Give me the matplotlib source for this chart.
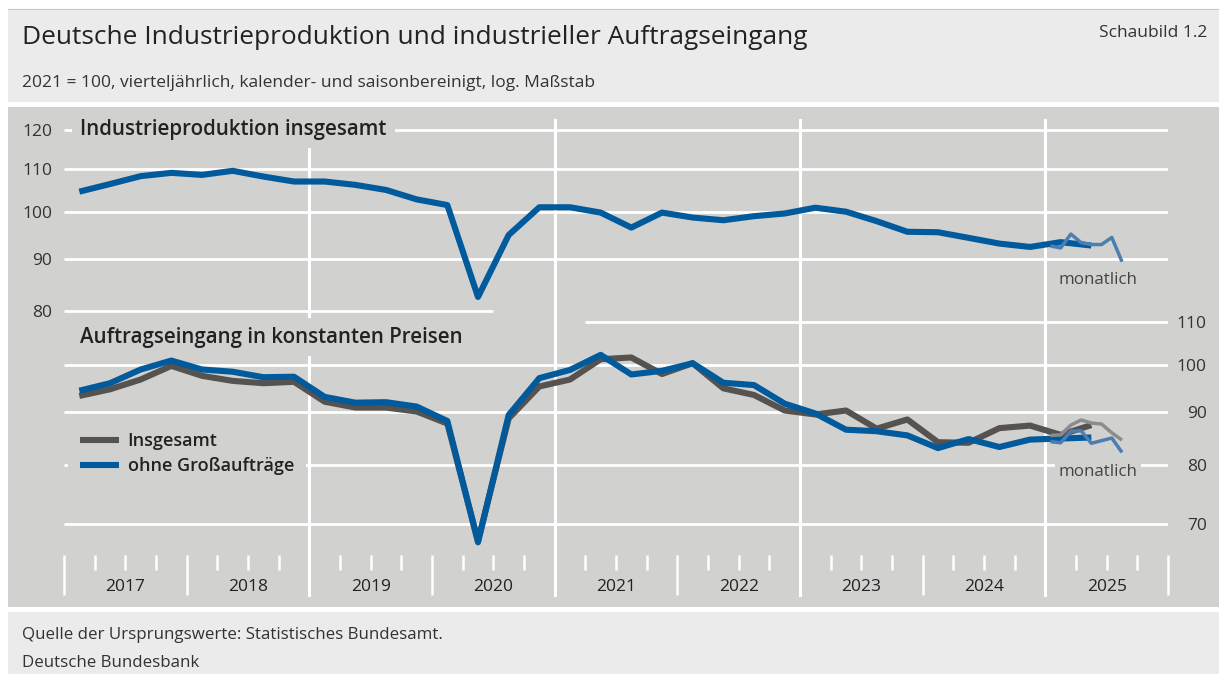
import numpy as np
import pandas as pd
import matplotlib
matplotlib.use('Agg')
import matplotlib.pyplot as plt
import matplotlib.transforms as mtransforms
from matplotlib.patches import Rectangle
from matplotlib.ticker import NullLocator

plt.rcParams['font.family'] = ['Open Sans', 'DejaVu Sans']

# 2021 = 100, log scale; quarterly 2017Q1-2025Q2, monthly Jan-Aug 2025
quarters = pd.period_range('2017Q1', '2025Q2', freq='Q')
months = pd.period_range('2025-01', '2025-08', freq='M')

prod_q = [104.6, 106.4, 108.3, 109.1,
          108.6, 109.6, 108.2, 107.0,
          107.0, 106.2, 105.0, 102.8,
          101.5, 82.6, 94.9, 101.0,
          101.0, 99.8, 96.5, 99.8,
          98.7, 98.1, 99.0, 99.6,
          100.9, 100.0, 97.9, 95.6,
          95.5, 94.3, 93.1, 92.4,
          93.4, 92.7]
prod_m = [92.6, 92.2, 95.1, 93.3, 92.9, 92.9, 94.4, 89.4]

orders_total_q = [93.3, 94.7, 96.8, 99.8,
                  97.6, 96.5, 96.0, 96.3,
                  92.1, 90.9, 90.9, 90.1,
                  87.7, 67.4, 88.7, 95.3,
                  96.8, 101.3, 101.7, 98.0,
                  100.4, 94.9, 93.5, 90.3,
                  89.5, 90.3, 86.7, 88.5,
                  84.1, 84.0, 86.8, 87.3,
                  85.5, 87.4]
orders_ex_q = [94.4, 96.0, 99.0, 101.0,
               99.0, 98.5, 97.3, 97.4,
               93.1, 91.9, 92.0, 91.1,
               88.2, 67.2, 89.4, 97.1,
               98.9, 102.3, 97.9, 98.7,
               100.4, 96.1, 95.6, 91.7,
               89.7, 86.5, 86.2, 85.4,
               83.0, 84.7, 83.2, 84.6,
               84.8, 85.0]
orders_total_m = [85.4, 85.5, 87.4, 88.4, 87.8, 87.6, 85.9, 84.5]
orders_ex_m = [84.2, 84.0, 86.2, 86.3, 83.9, 84.4, 84.9, 82.2]

years = list(range(2017, 2026))
prod_ticks = [80, 90, 100, 110, 120]
orders_ticks = [70, 80, 90, 100, 110]

# colours
blue = '#005a9c'
blue_light = '#4d7eb1'
grey_dark = '#55524f'
grey_light = '#8c8c8c'
plot_bg = '#d1d1d0'
band_bg = '#ebebeb'
txt = '#222222'

# figure in pixels
W, H = 1219, 674
fig = plt.figure(figsize=(W / 100, H / 100), dpi=100)
fig.patch.set_facecolor('white')


def fx(px):
    return px / W


def fy(py):
    return 1 - py / H


# background bands
fig.add_artist(Rectangle((fx(8), fy(102)), fx(W - 8), (102 - 9) / H, transform=fig.transFigure,
                         fc=band_bg, ec='none', zorder=-5))
fig.add_artist(Rectangle((fx(8), fy(607)), fx(W - 8), (607 - 107) / H, transform=fig.transFigure,
                         fc=plot_bg, ec='none', zorder=-5))
fig.add_artist(Rectangle((fx(8), fy(H)), fx(W - 8), (H - 612) / H, transform=fig.transFigure,
                         fc=band_bg, ec='none', zorder=-5))
fig.add_artist(plt.Line2D([fx(8), 1], [fy(9), fy(9)], transform=fig.transFigure,
                          color='#c8c8c8', lw=0.8))

# axes area: x 64..1168 px, y 120..555 px; both scales 446 px per ln unit
AX_L, AX_R, AX_T, AX_B = 64, 1168, 120, 555
PX_LN = 446.0
prod_100_px = 211.7
orders_100_px = 365.0

ax = fig.add_axes([fx(AX_L), fy(AX_B), (AX_R - AX_L) / W, (AX_B - AX_T) / H])
ax.set_facecolor('none')
ax.set_yscale('log')
ax.set_xlim(2017, 2026)
ax.set_ylim(100 * np.exp((prod_100_px - AX_B) / PX_LN), 100 * np.exp((prod_100_px - AX_T) / PX_LN))

ax2 = ax.twinx()
ax2.set_yscale('log')
ax2.set_ylim(100 * np.exp((orders_100_px - AX_B) / PX_LN), 100 * np.exp((orders_100_px - AX_T) / PX_LN))

for a in (ax, ax2):
    for s in a.spines.values():
        s.set_visible(False)
    a.yaxis.set_minor_locator(NullLocator())

# gridlines
grid_kw = dict(color='white', lw=2.0, zorder=1)
ax.hlines([110, 100, 90, 120], 2017, 2026, **grid_kw)
ax.hlines(80, 2017, 2020.5, **grid_kw)
ax2.hlines([100, 90, 80, 70], 2017, 2026, **grid_kw)
ax2.hlines(110, 2021.25, 2026, **grid_kw)
for yr in [2019, 2021, 2023, 2025]:
    ax.axvline(yr, ymin=-40 / (AX_B - AX_T), ymax=1, color='white', lw=2.2, clip_on=False, zorder=1)

# x ticks: years long, quarters short
ax.set_xticks(years + [2026])
ax.set_xticks(np.arange(2017, 2026, 0.25), minor=True)
ax.tick_params(axis='x', which='major', length=28.8, width=1.8, color='white', labelbottom=False)
ax.tick_params(axis='x', which='minor', length=10.8, width=1.8, color='white')
year_tr = mtransforms.blended_transform_factory(ax.transData, fig.transFigure)
for yr in years:
    ax.text(yr + 0.5, fy(587), str(yr), transform=year_tr, ha='center', va='center',
            fontsize=12.5, color=txt)

# y ticks
ax.set_yticks(prod_ticks, labels=[str(t) for t in prod_ticks])
ax.tick_params(axis='y', length=0, pad=8.6, labelsize=12.5, labelcolor='#333333')
ax2.set_yticks(orders_ticks, labels=[str(t) for t in orders_ticks])
ax2.tick_params(axis='y', length=0, pad=28, labelsize=12.5, labelcolor='#333333')
for lbl in ax2.get_yticklabels():
    lbl.set_ha('right')

# series
xq = quarters.year + (quarters.quarter - 0.5) / 4
xm = months.year + (months.month - 0.5) / 12
line_kw = dict(solid_joinstyle='round', solid_capstyle='butt')
ax.plot(xq, prod_q, color=blue, lw=4.4, zorder=3, **line_kw)
ax.plot(xm, prod_m, color=blue_light, lw=2.5, zorder=4, **line_kw)
l_tot, = ax2.plot(xq, orders_total_q, color=grey_dark, lw=4.4, zorder=3, label='Insgesamt', **line_kw)
l_ex, = ax2.plot(xq, orders_ex_q, color=blue, lw=4.4, zorder=4, label='ohne Großaufträge', **line_kw)
ax2.plot(xm, orders_total_m, color=grey_light, lw=2.5, zorder=5, **line_kw)
ax2.plot(xm, orders_ex_m, color=blue_light, lw=2.5, zorder=6, **line_kw)

leg = ax2.legend(handles=[l_tot, l_ex], loc='center left', bbox_to_anchor=(fx(68), fy(453.5)),
                 bbox_transform=fig.transFigure, frameon=True, facecolor=plot_bg,
                 prop=dict(size=13, weight='semibold'),
                 edgecolor='none', framealpha=1, fancybox=False, borderpad=0.65,
                 handlelength=2.2, handletextpad=0.45, labelspacing=0.37, borderaxespad=0)
for t in leg.get_texts():
    t.set_color(txt)

# panel titles and notes (boxes hide the grid behind them)
box = dict(boxstyle='square,pad=0.4', fc=plot_bg, ec='none')
fig.text(fx(80), fy(129), 'Industrieproduktion insgesamt', fontsize=14.8, fontweight='semibold',
         color=txt, va='center', bbox=box)
fig.text(fx(80), fy(337), 'Auftragseingang in konstanten Preisen', fontsize=14.8, fontweight='semibold',
         color=txt, va='center', bbox=box)
fig.text(fx(1098), fy(280), 'monatlich', fontsize=12.2, color='#444444', ha='center', va='center')
fig.text(fx(1098), fy(472), 'monatlich', fontsize=12.2, color='#444444', ha='center', va='center',
         bbox=dict(boxstyle='square,pad=0.2', fc=plot_bg, ec='none'))

# header and footer
fig.text(fx(22), fy(37), 'Deutsche Industrieproduktion und industrieller Auftragseingang',
         fontsize=18.9, color=txt, va='center')
fig.text(fx(22), fy(83), '2021 = 100, vierteljährlich, kalender- und saisonbereinigt, log. Maßstab',
         fontsize=12.5, color='#333333', va='center')
fig.text(fx(1207), fy(33), 'Schaubild 1.2', fontsize=12.5, color='#333333', ha='right', va='center')
fig.text(fx(22), fy(635), 'Quelle der Ursprungswerte: Statistisches Bundesamt.', fontsize=12.2,
         color='#333333', va='center')
fig.text(fx(22), fy(663), 'Deutsche Bundesbank', fontsize=12.2, color='#333333', va='center')

fig.savefig('out.png', dpi=100)
